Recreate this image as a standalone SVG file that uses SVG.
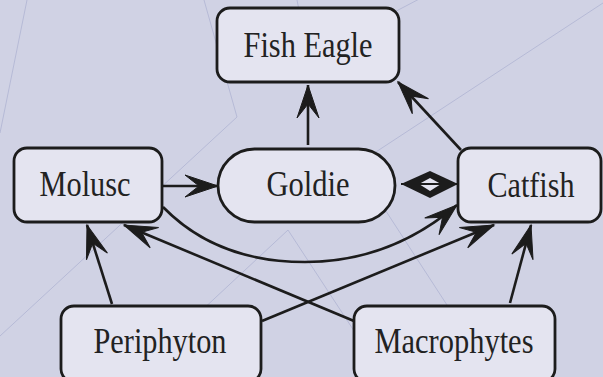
<svg xmlns="http://www.w3.org/2000/svg" width="603" height="377" viewBox="0 0 603 377">
<style>
.bg{fill:#d0d2e4}
.deco{fill:none;stroke:#b6bad6;stroke-width:1}
.box{fill:#e4e4f0;stroke:#1c1c1c;stroke-width:2.8}
.lbl{font-family:"Liberation Serif","Times New Roman",serif;font-size:36px;fill:#222;text-anchor:middle}
.edge{fill:none;stroke:#1c1c1c;stroke-width:2.6}
</style>
<defs>
<marker id="ah" markerUnits="userSpaceOnUse" markerWidth="40" markerHeight="30" viewBox="-36 -15 40 30" refX="0" refY="0" orient="auto">
<path d="M0,0 L-33,-11 L-19,0 L-33,11 Z" fill="#1c1c1c" stroke="#1c1c1c" stroke-width="1"/>
</marker>
</defs>
<rect class="bg" x="0" y="0" width="603" height="377"/>
<g id="background-lines">
<path class="deco" d="M27,0 L0,133"/>
<path class="deco" d="M204,0 L237,117 L0,336"/>
<path class="deco" d="M603,3 L356,165 L460,325"/>
<path class="deco" d="M170,340 L288,230 L360,340"/>
<path class="deco" d="M297,0 L305,40"/>
<path class="deco" d="M425,-4 L360,30"/>
</g>
<g id="connectors">
<path class="edge" d="M308,145 L308,85" marker-end="url(#ah)"/>
<path class="edge" d="M461,150 L398,82" marker-end="url(#ah)"/>
<path class="edge" d="M162,186 L218,186" marker-end="url(#ah)"/>
<path class="edge" d="M163,207 C200,245 250,262 305,262 C360,262 410,245 457,205" marker-end="url(#ah)"/>
<path class="edge" d="M112,304 L87,225" marker-end="url(#ah)"/>
<path class="edge" d="M354,321 L124,225" marker-end="url(#ah)"/>
<path class="edge" d="M262,321 L494,225" marker-end="url(#ah)"/>
<path class="edge" d="M510,303 L531,225" marker-end="url(#ah)"/>
<g id="goldie-catfish">
<path d="M401,184 L430,171 L458,184 L430,198 Z" fill="#1c1c1c"/>
<path d="M419,184 L430,178 L441,184 L430,191 Z" fill="#e4e4f0"/>
<path d="M401,184 L458,184" stroke="#1c1c1c" stroke-width="2"/>
</g>
</g>
<g id="fish-eagle">
<rect class="box" x="217" y="8" width="182" height="74" rx="13"/>
<text class="lbl" x="308" y="57" textLength="129" lengthAdjust="spacingAndGlyphs">Fish Eagle</text>
</g>
<g id="molusc">
<rect class="box" x="14" y="148" width="148" height="74" rx="13"/>
<text class="lbl" x="85" y="196" textLength="91" lengthAdjust="spacingAndGlyphs">Molusc</text>
</g>
<g id="goldie">
<rect class="box" x="218" y="149" width="177" height="73" rx="36.5"/>
<text class="lbl" x="308" y="196" textLength="83" lengthAdjust="spacingAndGlyphs">Goldie</text>
</g>
<g id="catfish">
<rect class="box" x="458" y="148" width="143" height="74" rx="13"/>
<text class="lbl" x="531" y="197" textLength="87" lengthAdjust="spacingAndGlyphs">Catfish</text>
</g>
<g id="periphyton">
<rect class="box" x="61" y="306" width="200" height="76" rx="13"/>
<text class="lbl" x="160" y="353" textLength="133" lengthAdjust="spacingAndGlyphs">Periphyton</text>
</g>
<g id="macrophytes">
<rect class="box" x="354" y="306" width="201" height="76" rx="13"/>
<text class="lbl" x="454" y="353" textLength="159" lengthAdjust="spacingAndGlyphs">Macrophytes</text>
</g>
</svg>
